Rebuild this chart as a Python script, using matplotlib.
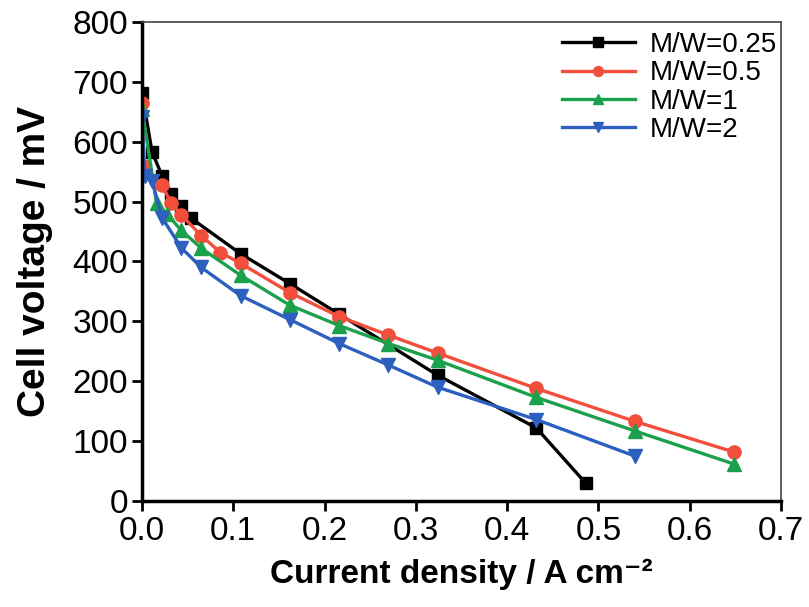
import matplotlib
matplotlib.use('Agg')
import matplotlib.pyplot as plt

plt.rcParams['font.family'] = ['Liberation Sans', 'DejaVu Sans']

# polarization curves
labels = ['M/W=0.25', 'M/W=0.5', 'M/W=1', 'M/W=2']

x_025 = [0, 0.011, 0.022, 0.032, 0.043, 0.054, 0.108, 0.162, 0.216, 0.324, 0.432, 0.486]
v_025 = [682, 583, 543, 513, 493, 472, 413, 363, 312, 210, 122, 30]

x_05 = [0, 0.002, 0.022, 0.032, 0.043, 0.065, 0.086, 0.108, 0.162, 0.216, 0.27, 0.324, 0.432, 0.54, 0.648]
v_05 = [665, 560, 527, 498, 478, 443, 415, 397, 348, 308, 277, 247, 188, 133, 82]

x_1 = [0, 0.016, 0.027, 0.043, 0.065, 0.108, 0.162, 0.216, 0.27, 0.324, 0.432, 0.54, 0.648]
v_1 = [655, 497, 480, 452, 422, 377, 327, 293, 263, 235, 173, 117, 62]

x_2 = [0, 0.003, 0.011, 0.022, 0.043, 0.065, 0.108, 0.162, 0.216, 0.27, 0.324, 0.432, 0.54]
v_2 = [641, 543, 535, 473, 423, 390, 343, 303, 263, 227, 190, 136, 75]

xs = [x_025, x_05, x_1, x_2]
vs = [v_025, v_05, v_1, v_2]
colors = ['#000000', '#f24e3c', '#1ba04c', '#2d5fbe']
markers = ['s', 'o', '^', 'v']
sizes = [9, 9.5, 10.5, 10.5]

fig = plt.figure(figsize=(8.09, 6.07), dpi=100)
ax = fig.add_axes([0.1755, 0.1746, 0.7899, 0.7892])

for x, v, c, m, s, lab in zip(xs, vs, colors, markers, sizes, labels):
    ax.plot(x, v, color=c, marker=m, markersize=s, linewidth=2.4, label=lab)

ax.set_xlim(0, 0.7)
ax.set_ylim(0, 800)
ax.set_xticks([0.0, 0.1, 0.2, 0.3, 0.4, 0.5, 0.6, 0.7])
ax.set_yticks(range(0, 801, 100))

ax.set_xlabel('Current density / A cm\u207b\u00b2', fontsize=24, fontweight='bold', labelpad=8)
ax.set_ylabel('Cell voltage / mV', fontsize=28, fontweight='bold', labelpad=14)

ax.tick_params(axis='both', direction='out', length=7, width=2, labelsize=24, colors='black')
ax.tick_params(axis='x', pad=4)
ax.tick_params(axis='y', pad=3)

for side in ['left', 'bottom']:
    ax.spines[side].set_linewidth(2.5)
for side in ['top', 'right']:
    ax.spines[side].set_linewidth(1.2)
    ax.spines[side].set_color('#4a4040')

ax.legend(loc='upper right', bbox_to_anchor=(1.02, 1.014), frameon=False, fontsize=20,
          handlelength=2.6, handletextpad=0.55, labelspacing=0.085, borderaxespad=0.2,
          markerscale=0.75)

fig.savefig('out.png', dpi=100)
